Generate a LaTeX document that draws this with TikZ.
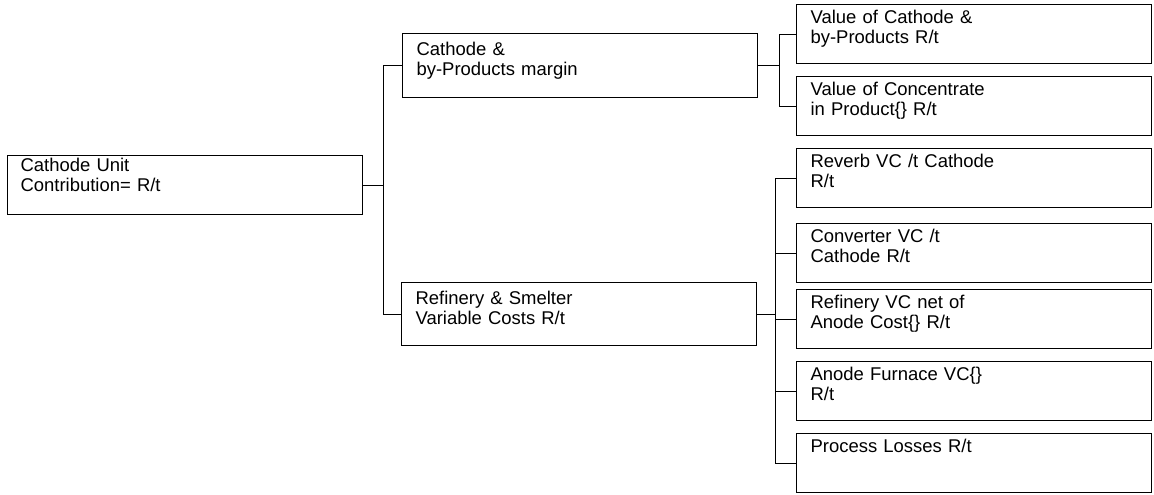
\documentclass[tikz,border=0pt]{standalone}
\usepackage{fontspec}
\setmainfont{Liberation Sans}
\begin{document}
\begin{tikzpicture}[x=0.65pt, y=-0.65pt, line width=0.75pt,
    box/.style={draw, anchor=north west, align=left,
        font=\fontsize{12pt}{13pt}\selectfont,
        inner xsep=9.1pt, inner ysep=0pt, text width=212.55pt},
    midbox/.style={box, text height=14.3pt},
    leafbox/.style={box, text height=12.35pt, text depth=26pt}]
    \useasboundingbox (0,0) rectangle (1154,494);
    % root
    \node[box, inner xsep=8.45pt, text width=213.85pt, text height=10.4pt, text depth=27.95pt]
        (unit) at (7,155) {Cathode Unit\\Contribution= R/t};
    % second level
    \node[midbox, text depth=27.3pt] (margin) at (402,33) {Cathode \&\\by-Products margin};
    \node[midbox, text depth=26.65pt] (costs) at (401,282) {Refinery \& Smelter\\Variable Costs R/t};
    % leaves
    \node[leafbox] (cathval) at (796,4) {Value of Cathode \&\\by-Products R/t};
    \node[leafbox] (concval) at (796,76) {Value of Concentrate\\in Product\{\} R/t};
    \node[leafbox] (reverb) at (796,148) {Reverb VC /t Cathode\\R/t};
    \node[leafbox] (converter) at (796,223) {Converter VC /t\\Cathode R/t};
    \node[leafbox] (refinery) at (796,289) {Refinery VC net of\\Anode Cost\{\} R/t};
    \node[leafbox] (furnace) at (796,361) {Anode Furnace VC\{\}\\R/t};
    \node[leafbox] (losses) at (796,433) {Process Losses R/t};
    % connectors
    \draw (unit.east) -- ++(20,0) coordinate (j0);
    \draw (margin.west) -| (j0) |- (costs.west);
    \draw (margin.east) -- ++(21,0) coordinate (j1);
    \foreach \n in {cathval,concval}
        \draw (j1) |- (\n.west);
    \draw (costs.east) -- ++(18,0) coordinate (j2);
    \foreach \n in {reverb,converter,refinery,furnace,losses}
        \draw (j2) |- (\n.west);
\end{tikzpicture}
\end{document}
